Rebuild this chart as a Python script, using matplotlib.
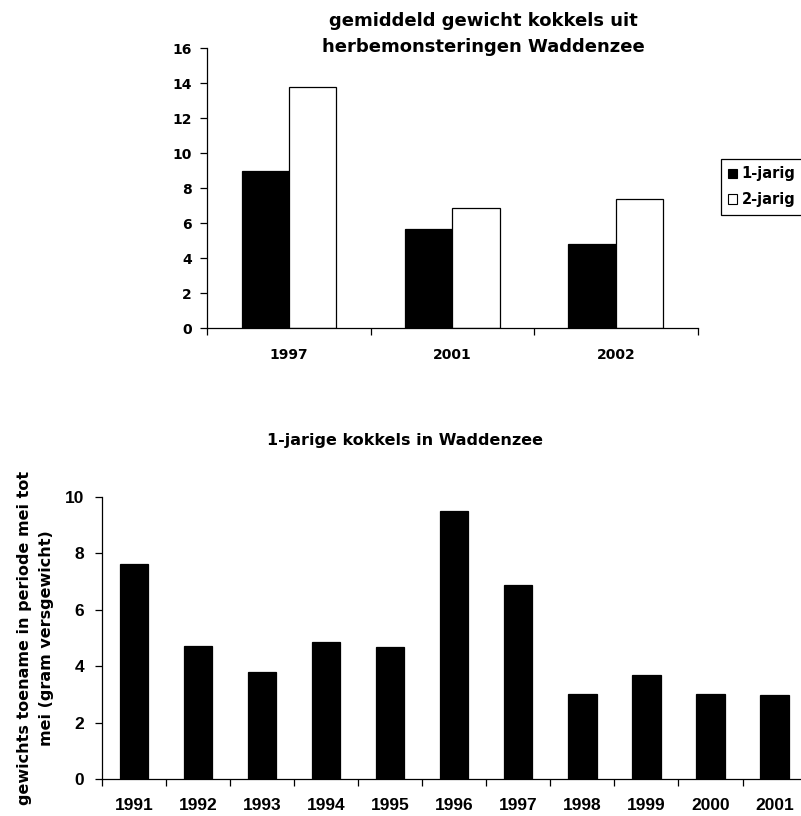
import matplotlib
matplotlib.use("Agg")
import matplotlib.pyplot as plt
from matplotlib.patches import Patch
from matplotlib.ticker import FixedLocator, NullFormatter
import numpy as np

# Top chart: mean weight of cockles from resampling surveys
top_years = ["1997", "2001", "2002"]
weight_1jarig = [9.0, 5.7, 4.8]
weight_2jarig = [13.8, 6.85, 7.4]
top_yticks = [0, 2, 4, 6, 8, 10, 12, 14, 16]

# Bottom chart: weight gain of 1-year-old cockles, May to May
bottom_years = ["1991", "1992", "1993", "1994", "1995", "1996",
                "1997", "1998", "1999", "2000", "2001"]
weight_gain = [7.6, 4.7, 3.78, 4.85, 4.66, 9.5, 6.88, 3.0, 3.67, 3.0, 2.96]
bottom_yticks = [0, 2, 4, 6, 8, 10]

W, H = 801, 816
fig = plt.figure(figsize=(W / 100, H / 100), dpi=100)

BOLD_WIDE = dict(family="DejaVu Sans", weight="bold")
BOLD_ARIAL = dict(family="Liberation Sans", weight="bold")


def px_rect(left, top, right, bottom):
    return [left / W, 1 - bottom / H, (right - left) / W, (bottom - top) / H]


def style_axes(ax, n, ytick_font, yfs, xfs, xfont, xpad, ypad):
    for s in ("top", "right"):
        ax.spines[s].set_visible(False)
    for s in ("left", "bottom"):
        ax.spines[s].set_color("black")
        ax.spines[s].set_linewidth(0.9)
    ax.set_xlim(-0.5, n - 0.5)
    ax.xaxis.set_minor_locator(FixedLocator(np.arange(n + 1) - 0.5))
    ax.xaxis.set_minor_formatter(NullFormatter())
    ax.tick_params(axis="x", which="major", length=0, pad=xpad)
    ax.tick_params(axis="x", which="minor", length=5, width=0.9,
                   direction="out", color="black")
    ax.tick_params(axis="y", length=5, width=0.9, direction="out",
                   color="black", pad=ypad)
    for lab in ax.get_yticklabels():
        lab.set(**ytick_font, fontsize=yfs)
    for lab in ax.get_xticklabels():
        lab.set(**xfont, fontsize=xfs)


# ---- top chart ----
ax1 = fig.add_axes(px_rect(207.3, 48.3, 697.5, 328.3))
x1 = np.arange(len(top_years))
bw = 0.29
ax1.bar(x1 - bw / 2, weight_1jarig, bw, color="black", edgecolor="black",
        linewidth=0.9, label="1-jarig")
ax1.bar(x1 + bw / 2, weight_2jarig, bw, color="white", edgecolor="black",
        linewidth=0.9, label="2-jarig")
ax1.set_ylim(0, 16)
ax1.set_yticks(top_yticks)
ax1.set_xticks(x1)
ax1.set_xticklabels(top_years)
style_axes(ax1, len(top_years), BOLD_WIDE, 10, 10, BOLD_WIDE, 14, 6)

fig.text(483 / W, 1 - 34 / H,
         "gemiddeld gewicht kokkels uit\nherbemonsteringen Waddenzee",
         ha="center", va="center", fontsize=13, linespacing=1.6,
         **BOLD_WIDE)

handles = [Patch(facecolor="black", edgecolor="black", linewidth=0.8),
           Patch(facecolor="white", edgecolor="black", linewidth=0.8)]
leg = fig.legend(handles, ["1-jarig", "2-jarig"],
                 loc="upper left", bbox_to_anchor=(721 / W, 1 - 159 / H),
                 frameon=True, fancybox=False, framealpha=1,
                 edgecolor="black", handlelength=0.6, handleheight=0.6,
                 handletextpad=0.3, borderpad=0.5, labelspacing=0.75,
                 borderaxespad=0, prop=dict(family="DejaVu Sans",
                                            weight="bold", size=10.5))
leg.get_frame().set_linewidth(0.9)

# ---- bottom chart ----
ax2 = fig.add_axes(px_rect(102.2, 496.7, 102.2 + 11 * 64.03, 779))
x2 = np.arange(len(bottom_years))
ax2.bar(x2, weight_gain, 0.44, color="black", edgecolor="black",
        linewidth=0.9)
ax2.set_ylim(0, 10)
ax2.set_yticks(bottom_yticks)
ax2.set_xticks(x2)
ax2.set_xticklabels(bottom_years)
style_axes(ax2, len(bottom_years), BOLD_ARIAL, 12.5, 12.5, BOLD_ARIAL, 14, 8)

fig.text(405 / W, 1 - 440 / H, "1-jarige kokkels in Waddenzee",
         ha="center", va="center", fontsize=11.5, **BOLD_WIDE)

fig.text(35.5 / W, 1 - 638 / H,
         "gewichts toename in periode mei tot\nmei (gram versgewicht)",
         ha="center", va="center", rotation=90, fontsize=11.5,
         linespacing=1.65, multialignment="center", **BOLD_WIDE)

fig.savefig("out.png", dpi=100, facecolor="white")
